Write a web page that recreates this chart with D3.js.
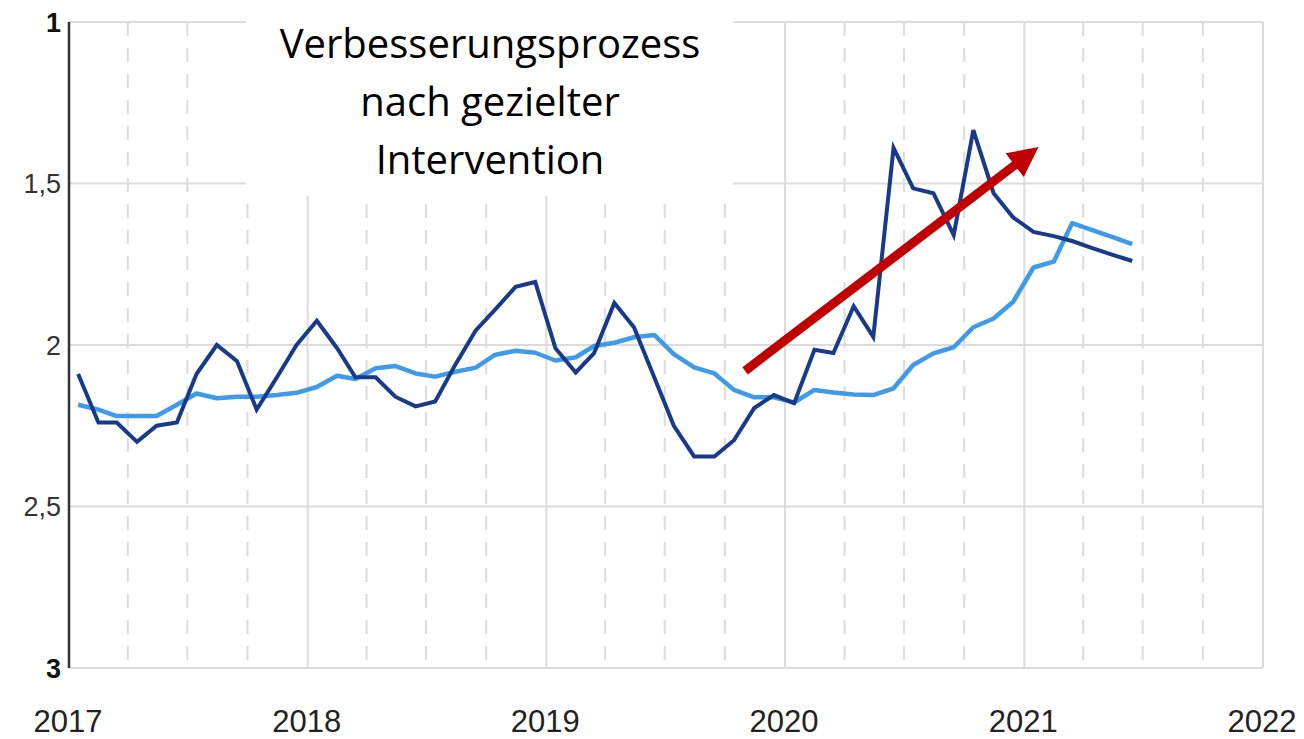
<!DOCTYPE html>
<html>
<head>
<meta charset="utf-8">
<script src="https://cdn.jsdelivr.net/npm/d3@7"></script>
<style>
  body { margin: 0; background: #fff; }
  svg { display: block; }
</style>
</head>
<body>
<svg id="chart"></svg>
<script>
var width = 1304;
var height = 739;

// months, one point per month starting Jan 2017
var startMonth = new Date(2017, 0, 15);
var monthCount = 54;

// dark series (einzelwerte)
var darkValues = [
  2.09, 2.24, 2.24, 2.30, 2.25, 2.24, 2.09, 2.00, 2.05, 2.20, 2.10, 2.00,
  1.925, 2.01, 2.10, 2.10, 2.16, 2.19, 2.175, 2.06, 1.955, 1.89, 1.82, 1.805,
  2.01, 2.085, 2.025, 1.87, 1.945, 2.10, 2.25, 2.345, 2.345, 2.295, 2.195, 2.155,
  2.18, 2.015, 2.025, 1.88, 1.975, 1.39, 1.515, 1.53, 1.66, 1.335, 1.53, 1.605,
  1.65, 1.663, 1.678, 1.70, 1.72, 1.74
];

// light series (gleitender durchschnitt)
var lightValues = [
  2.185, 2.20, 2.22, 2.22, 2.22, 2.185, 2.15, 2.165, 2.16, 2.16, 2.155, 2.148,
  2.13, 2.095, 2.105, 2.072, 2.065, 2.088, 2.098, 2.083, 2.07, 2.03, 2.018, 2.024,
  2.048, 2.038, 2.003, 1.993, 1.976, 1.969, 2.028, 2.069, 2.088, 2.139, 2.162, 2.162,
  2.178, 2.139, 2.147, 2.153, 2.155, 2.134, 2.062, 2.026, 2.007, 1.945, 1.918, 1.866,
  1.76, 1.742, 1.623, 1.644, 1.665, 1.688
];

var yTicks = [1, 1.5, 2, 2.5, 3];
var yTickLabels = ["1", "1,5", "2", "2,5", "3"];
var boldTicks = [1, 3];
var xTickYears = [2017, 2018, 2019, 2020, 2021, 2022];

var noteLines = ["Verbesserungsprozess", "nach gezielter", "Intervention"];

// arrow annotation: [month offset from Jan 2017, value]
var arrowFrom = [34.0, 2.08];
var arrowTo = [48.7, 1.387];

var margin = {left: 69, right: 41, top: 22, bottom: 71};

var svg = d3.select("#chart")
    .attr("width", width)
    .attr("height", height);

var x = d3.scaleTime()
    .domain([new Date(2017, 0, 1), new Date(2022, 0, 1)])
    .range([margin.left, width - margin.right]);

var y = d3.scaleLinear()
    .domain([1, 3])
    .range([margin.top, height - margin.bottom]);

var months = d3.range(monthCount).map(function(i){
  return d3.timeMonth.offset(startMonth, i);
});

function monthDate(m){
  var whole = Math.floor(m);
  var d0 = d3.timeMonth.offset(new Date(2017, 0, 1), whole);
  var d1 = d3.timeMonth.offset(new Date(2017, 0, 1), whole + 1);
  return new Date(+d0 + (m - whole) * (d1 - d0));
}

// grid
var grid = svg.append("g");
var quarters = d3.timeMonth.range(new Date(2017, 0, 1), new Date(2022, 0, 1), 3)
    .filter(function(d){ return d.getMonth() !== 0; });

grid.selectAll(".q").data(quarters).enter().append("line")
    .attr("x1", function(d){ return x(d); })
    .attr("x2", function(d){ return x(d); })
    .attr("y1", y(1))
    .attr("y2", y(3))
    .style("stroke", "#dcdcdc")
    .style("stroke-width", 2)
    .style("stroke-dasharray", "14,12");

grid.selectAll(".yr").data(xTickYears.slice(1)).enter().append("line")
    .attr("x1", function(d){ return x(new Date(d, 0, 1)); })
    .attr("x2", function(d){ return x(new Date(d, 0, 1)); })
    .attr("y1", y(1))
    .attr("y2", y(3))
    .style("stroke", "#dcdcdc")
    .style("stroke-width", 2);

grid.selectAll(".h").data(yTicks).enter().append("line")
    .attr("x1", x.range()[0])
    .attr("x2", x.range()[1])
    .attr("y1", function(d){ return y(d); })
    .attr("y2", function(d){ return y(d); })
    .style("stroke", "#dcdcdc")
    .style("stroke-width", 2);

// y axis line + labels
svg.append("line")
    .attr("x1", margin.left).attr("x2", margin.left)
    .attr("y1", y(1)).attr("y2", y(3))
    .style("stroke", "#333")
    .style("stroke-width", 2.5);

svg.selectAll(".ylab").data(yTicks).enter().append("text")
    .attr("x", margin.left - 8)
    .attr("y", function(d){ return y(d); })
    .attr("dy", "0.36em")
    .attr("text-anchor", "end")
    .style("font-family", "'Liberation Sans', Arial, sans-serif")
    .style("font-size", "27px")
    .style("font-weight", function(d){ return boldTicks.indexOf(d) >= 0 ? "bold" : "normal"; })
    .style("fill", function(d){ return boldTicks.indexOf(d) >= 0 ? "#111" : "#333"; })
    .text(function(d, i){ return yTickLabels[i]; });

svg.selectAll(".xlab").data(xTickYears).enter().append("text")
    .attr("x", function(d){ return x(new Date(d, 0, 1)) - 1; })
    .attr("y", 732)
    .attr("text-anchor", "middle")
    .style("font-family", "'Liberation Sans', Arial, sans-serif")
    .style("font-size", "31px")
    .style("fill", "#222")
    .text(function(d){ return "" + d; });

// lines
var line = d3.line()
    .x(function(d){ return x(d[0]); })
    .y(function(d){ return y(d[1]); });

svg.append("path")
    .datum(months.map(function(d, i){ return [d, lightValues[i]]; }))
    .attr("d", line)
    .style("fill", "none")
    .style("stroke", "#3f9aea")
    .style("stroke-width", 4.5)
    .style("stroke-linejoin", "round");

svg.append("path")
    .datum(months.map(function(d, i){ return [d, darkValues[i]]; }))
    .attr("d", line)
    .style("fill", "none")
    .style("stroke", "#19398a")
    .style("stroke-width", 4)
    .style("stroke-linejoin", "miter");

// note box
var box = svg.append("g");
box.append("rect")
    .attr("x", 246).attr("y", 0)
    .attr("width", 487).attr("height", 196)
    .style("fill", "#fff");

box.selectAll("text").data(noteLines).enter().append("text")
    .attr("x", 490)
    .attr("y", function(d, i){ return 58 + i * 58; })
    .attr("text-anchor", "middle")
    .style("font-family", "'Open Sans', sans-serif")
    .style("font-size", "40px")
    .style("fill", "#000")
    .text(function(d){ return d; });

// red arrow
var ax0 = x(monthDate(arrowFrom[0])), ay0 = y(arrowFrom[1]);
var ax1 = x(monthDate(arrowTo[0])), ay1 = y(arrowTo[1]);
var ang = Math.atan2(ay1 - ay0, ax1 - ax0);
var headLen = 30, headHalf = 15;
var bx = ax1 - headLen * Math.cos(ang), by = ay1 - headLen * Math.sin(ang);

svg.append("line")
    .attr("x1", ax0).attr("y1", ay0)
    .attr("x2", bx + 2 * Math.cos(ang)).attr("y2", by + 2 * Math.sin(ang))
    .style("stroke", "#c00000")
    .style("stroke-width", 9);

svg.append("path")
    .attr("d", "M" + ax1 + "," + ay1 +
      "L" + (bx + headHalf * Math.sin(ang)) + "," + (by - headHalf * Math.cos(ang)) +
      "L" + (bx - headHalf * Math.sin(ang)) + "," + (by + headHalf * Math.cos(ang)) + "Z")
    .style("fill", "#c00000");
</script>
</body>
</html>
